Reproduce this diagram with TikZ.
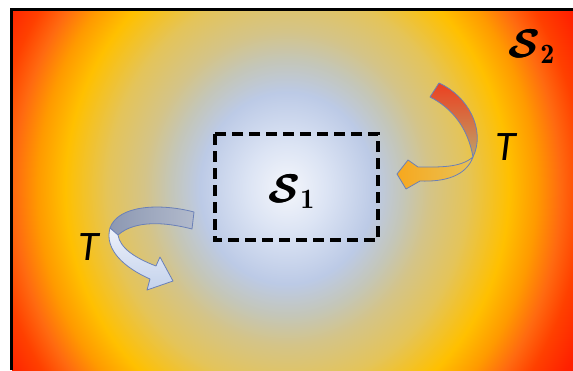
\documentclass[tikz,border=0pt]{standalone}
\usepackage{amsmath,bm}
\usepackage{fontspec}
\newfontfamily\calib{Carlito}
\definecolor{c0}{HTML}{F4F6FB}
\definecolor{c1}{HTML}{DCE4F4}
\definecolor{c2}{HTML}{BCCAE6}
\definecolor{c3}{HTML}{C4C6B8}
\definecolor{c4}{HTML}{D4C488}
\definecolor{c5}{HTML}{E4C45A}
\definecolor{c6}{HTML}{FFC000}
\definecolor{c7}{HTML}{FF9A00}
\definecolor{c8}{HTML}{FF6A10}
\definecolor{c9}{HTML}{FF4000}
\definecolor{c10}{HTML}{FF2000}
\definecolor{arrowline}{HTML}{6A80B8}
\pgfdeclareradialshading{heat}{\pgfpoint{0bp}{0bp}}{%
color(0bp)=(c0); color(3bp)=(c1); color(6.6bp)=(c2); color(8.8bp)=(c3);
color(10.8bp)=(c4); color(13.6bp)=(c5); color(16.8bp)=(c6); color(18.9bp)=(c7);
color(20.7bp)=(c8); color(22.4bp)=(c9); color(24.6bp)=(c10); color(50bp)=(c10)}
\newcommand{\boldS}[1]{\rlap{$\boldsymbol{\mathcal{S}}$}\kern0.22pt$\boldsymbol{\mathcal{S}}_{\mathbf{#1}}$}
\tikzset{
  ribbon/.style={draw=arrowline, line width=0.8pt, line join=round},
  boxline/.style={draw=black, line width=3.6pt, dash pattern=on 11pt off 6pt},
  setname/.style={anchor=base west, scale=4, inner sep=0pt},
  tlabel/.style={anchor=base, inner sep=0pt, font=\calib\itshape\fontsize{42}{44}\selectfont},
}
\begin{document}
\begin{tikzpicture}[x=1pt,y=-1pt]
\useasboundingbox (0,0) rectangle (573,370);
\fill[white] (0,0) rectangle (573,370);
% heat background
\begin{scope}
\clip (12,10) rectangle (573,370);
\shade[shading=heat] (-43,-175) rectangle (617,551);
\end{scope}
\draw[black, line width=3.5pt] (11.5,370) -- (11.5,9.5) -- (573,9.5);
% dashed region S1
\draw[boxline] (215,134) rectangle (378,240);
\node[setname] (s1) at (268,202) {\boldS{1}};
\node[setname] (s2) at (508,57) {\boldS{2}};
% right curved arrow (towards S1)
\shade[ribbon, left color={rgb,255:red,247;green,168;blue,30}, right color={rgb,255:red,232;green,194;blue,86}]
  (473,157) .. controls (460,168) and (440,167) .. (418,167)
  -- (408,160) -- (397,174) -- (406,189) -- (420,181)
  .. controls (445,182) and (466,176) .. (473,157) -- cycle;
\shade[ribbon, top color={rgb,255:red,236;green,64;blue,32}, bottom color={rgb,255:red,190;green,162;blue,104}]
  (439,83) .. controls (468,96) and (486,130) .. (473,157)
  .. controls (468,128) and (452,108) .. (430,97) -- cycle;
% left curved arrow (away from S1)
\shade[ribbon, left color={rgb,255:red,140;green,152;blue,178}, right color={rgb,255:red,178;green,186;blue,204}]
  (194,212) .. controls (160,203) and (118,205) .. (110,228)
  -- (118,235) .. controls (135,220) and (165,222) .. (192,229) -- cycle;
\shade[ribbon, top color={rgb,255:red,236;green,241;blue,250}, bottom color={rgb,255:red,196;green,210;blue,236}]
  (110,228) .. controls (104,250) and (125,268) .. (150,279)
  -- (147,290) -- (173,281) -- (160,257) -- (156,266)
  .. controls (135,258) and (120,248) .. (118,235) -- cycle;
\node[tlabel] (tr) at (506,160) {T};
\node[tlabel] (tl) at (89,260) {T};
\end{tikzpicture}
\end{document}
